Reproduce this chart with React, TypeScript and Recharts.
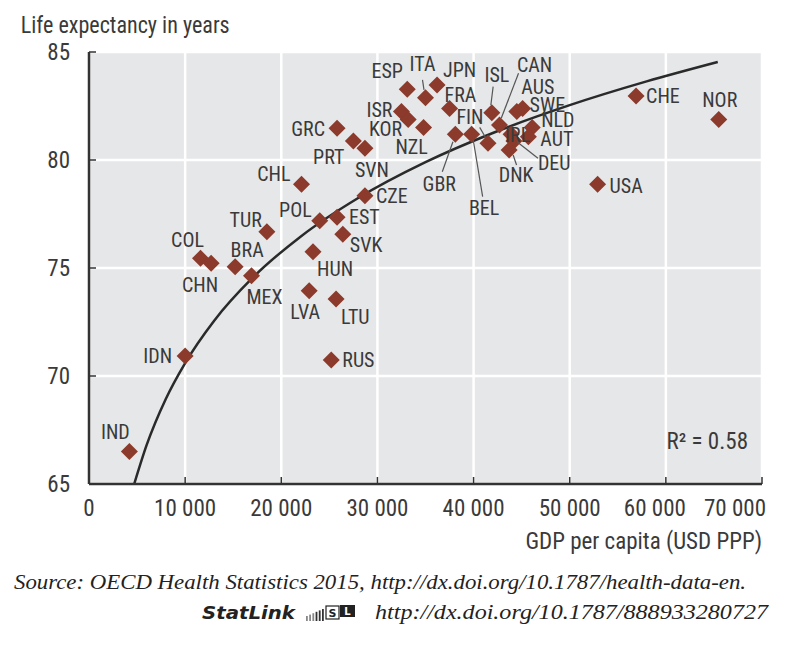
import React from 'react';
import { ComposedChart, Scatter, Line, XAxis, YAxis, CartesianGrid } from 'recharts';

// ---------- data ----------
const COUNTRIES = [
  'IND', 'IDN', 'COL', 'CHN', 'BRA', 'MEX', 'TUR', 'CHL', 'POL', 'EST', 'SVK', 'HUN', 'LVA', 'LTU',
  'RUS', 'CZE', 'SVN', 'PRT', 'GRC', 'ISR', 'KOR', 'NZL', 'ESP', 'ITA', 'JPN', 'FRA', 'GBR', 'BEL',
  'FIN', 'ISL', 'CAN', 'IRL', 'DEU', 'DNK', 'AUS', 'SWE', 'NLD', 'AUT', 'USA', 'CHE', 'NOR',
];
const GDP_PER_CAPITA = [
  4200, 10000, 11600, 12700, 15200, 16900, 18500, 22100, 24000, 25800, 26400, 23300, 22900, 25700,
  25200, 28700, 28700, 27500, 25800, 32500, 33200, 34800, 33100, 35000, 36200, 37500, 38100, 39800,
  41500, 41900, 42700, 43900, 44200, 43700, 44500, 45100, 46100, 45700, 52900, 56900, 65500,
];
const LIFE_EXPECTANCY = [
  66.5, 70.93, 75.45, 75.22, 75.06, 74.64, 76.68, 78.88, 77.19, 77.35, 76.56, 75.75, 73.95, 73.56,
  70.74, 78.35, 80.54, 80.88, 81.47, 82.24, 81.88, 81.5, 83.27, 82.88, 83.47, 82.39, 81.19, 81.19,
  80.77, 82.19, 81.62, 81.19, 80.88, 80.46, 82.24, 82.39, 81.51, 81.08, 78.88, 82.96, 81.88,
];
// fitted (logarithmic) trend curve
const TREND_GDP = [4700, 6000, 8000, 10000, 13000, 17000, 22000, 28000, 35000, 42000, 50000, 58000, 65400];
const TREND_LIFE = [65.0, 66.81, 68.95, 70.6, 72.55, 74.54, 76.45, 78.24, 79.9, 81.25, 82.54, 83.64, 84.54];
const R_SQUARED = 0.58;

const X_TICKS = [0, 10000, 20000, 30000, 40000, 50000, 60000, 70000];
const Y_TICKS = [65, 70, 75, 80, 85];

const TITLE = 'Life expectancy in years';
const X_LABEL = 'GDP per capita (USD PPP)';
const SOURCE = 'Source:  OECD Health Statistics 2015, http://dx.doi.org/10.1787/health-data-en.';
const STATLINK = 'StatLink';
const STATLINK_URL = 'http://dx.doi.org/10.1787/888933280727';

const points = COUNTRIES.map((code, i) => ({ code, gdp: GDP_PER_CAPITA[i], le: LIFE_EXPECTANCY[i] }));
const trend = TREND_GDP.map((g, i) => ({ gdp: g, le: TREND_LIFE[i] }));

// ---------- styles / layout ----------
const FONT = "'Liberation Sans Narrow', 'Arial Narrow', 'Roboto Condensed', 'DejaVu Sans Condensed', sans-serif";
const SERIF = "'Liberation Serif', 'DejaVu Serif', serif";
const TEXT = '#3a3a3a';
const MARK = '#8c3a2b';
const AXIS = '#333333';

type LabelPos = { dx: number; dy: number; a: 'start' | 'middle' | 'end'; leader?: [number, number, number, number] };
const LABEL_POS: Record<string, LabelPos> = {
  IND: { dx: -14, dy: -20, a: 'middle' },
  IDN: { dx: -13, dy: 0, a: 'end' },
  COL: { dx: -13, dy: -18, a: 'middle' },
  CHN: { dx: -11, dy: 22, a: 'middle' },
  BRA: { dx: 12, dy: -17, a: 'middle' },
  MEX: { dx: 13, dy: 21, a: 'middle' },
  TUR: { dx: -5, dy: -12, a: 'end' },
  CHL: { dx: -11, dy: -10, a: 'end' },
  POL: { dx: -8, dy: -11, a: 'end' },
  EST: { dx: 12, dy: 0, a: 'start' },
  SVK: { dx: 7, dy: 11, a: 'start' },
  HUN: { dx: 4, dy: 17, a: 'start' },
  LVA: { dx: -4, dy: 21, a: 'middle' },
  LTU: { dx: 5, dy: 18, a: 'start' },
  RUS: { dx: 11, dy: 0, a: 'start' },
  CZE: { dx: 11, dy: 0, a: 'start' },
  SVN: { dx: 7, dy: 22, a: 'middle' },
  PRT: { dx: -9, dy: 16, a: 'end' },
  GRC: { dx: -12, dy: 1, a: 'end' },
  ISR: { dx: -9, dy: -2, a: 'end' },
  KOR: { dx: -6, dy: 10, a: 'end' },
  NZL: { dx: -12, dy: 19, a: 'middle' },
  ESP: { dx: -20, dy: -18, a: 'middle' },
  ITA: { dx: -3, dy: -34, a: 'middle', leader: [-3, -18, -1.5, -8] },
  JPN: { dx: 6, dy: -15, a: 'start' },
  FRA: { dx: -5, dy: -13, a: 'start' },
  GBR: { dx: -16, dy: 50, a: 'middle', leader: [-2.4, 7.4, -13, 37.4] },
  BEL: { dx: 12.5, dy: 74, a: 'middle', leader: [1.6, 5.7, 11, 62.4] },
  FIN: { dx: -18, dy: -26, a: 'middle', leader: [-8.3, -16, -2.3, -5.6] },
  ISL: { dx: 5, dy: -38, a: 'middle', leader: [1.3, -26, -1, -7.7] },
  CAN: { dx: 35, dy: -60, a: 'middle', leader: [19, -51.7, 1.7, -6.7] },
  AUS: { dx: 21, dy: -25, a: 'middle' },
  SWE: { dx: 7, dy: -3, a: 'start' },
  NLD: { dx: 9, dy: -7, a: 'start' },
  AUT: { dx: 12, dy: 2, a: 'start' },
  IRL: { dx: -6, dy: 1, a: 'start' },
  DEU: { dx: 24, dy: 22, a: 'start', leader: [3, 0.7, 24, 17.3] },
  DNK: { dx: 7, dy: 25, a: 'middle', leader: [4, 5, 7.4, 15] },
  USA: { dx: 12, dy: 2, a: 'start' },
  CHE: { dx: 10, dy: 0, a: 'start' },
  NOR: { dx: 1, dy: -19, a: 'middle' },
};
const X_TICK_SHIFT: Record<number, number> = { 60000: -11, 70000: -27 };

const fmtThousands = (v: number) => String(v).replace(/\B(?=(\d{3})+(?!\d))/g, ' ');

const Diamond = (props: any) => {
  const { cx, cy } = props;
  if (cx == null || cy == null) return null;
  const r = 8.5;
  return <polygon points={`${cx},${cy - r} ${cx + r},${cy} ${cx},${cy + r} ${cx - r},${cy}`} fill={MARK} />;
};

const CountryLabel = (props: any) => {
  const { cx, cy, payload } = props;
  if (cx == null || cy == null || !payload) return null;
  const p = LABEL_POS[payload.code] || { dx: 10, dy: 0, a: 'start' };
  return (
    <g>
      {p.leader && (
        <line x1={cx + p.leader[0]} y1={cy + p.leader[1]} x2={cx + p.leader[2]} y2={cy + p.leader[3]} stroke="#555" strokeWidth={1.2} />
      )}
      <text x={cx + p.dx} y={cy + p.dy + 7} textAnchor={p.a} fontSize={20} fill={TEXT} fontFamily={FONT}>
        {payload.code}
      </text>
    </g>
  );
};

const XTick = (props: any) => {
  const { x, y, payload } = props;
  const shift = X_TICK_SHIFT[payload.value] ?? 0;
  return (
    <text x={x + shift} y={y + 32} textAnchor="middle" fontSize={23} fill={TEXT} fontFamily={FONT}>
      {fmtThousands(payload.value)}
    </text>
  );
};

const YTick = (props: any) => {
  const { x, y, payload } = props;
  return (
    <text x={x} y={y + 8} textAnchor="end" fontSize={23} fill={TEXT} fontFamily={FONT}>
      {payload.value}
    </text>
  );
};

export default function App() {
  return (
    <div style={{ position: 'relative', width: 780, height: 638 }}>
      <ComposedChart width={780} height={560} margin={{ top: 44, right: 26, bottom: 44, left: 0 }}>
        <CartesianGrid fill="#e6e7e8" stroke="#ffffff" strokeWidth={2.5} />
        <XAxis
          dataKey="gdp"
          type="number"
          domain={[0, 70000]}
          ticks={X_TICKS}
          interval={0}
          allowDataOverflow
          height={40}
          tickSize={-7}
          tickMargin={7}
          axisLine={{ stroke: AXIS, strokeWidth: 2.5 }}
          tickLine={{ stroke: AXIS, strokeWidth: 1.5 }}
          tick={<XTick />}
        />
        <YAxis
          dataKey="le"
          type="number"
          domain={[65, 85]}
          ticks={Y_TICKS}
          interval={0}
          allowDataOverflow
          width={81}
          tickSize={-7}
          tickMargin={26}
          axisLine={{ stroke: AXIS, strokeWidth: 2.5 }}
          tickLine={{ stroke: AXIS, strokeWidth: 1.5 }}
          tick={<YTick />}
        />
        <Scatter data={points} shape={<Diamond />} isAnimationActive={false} />
        <Line data={trend} dataKey="le" type="monotone" stroke="#2a2a2a" strokeWidth={2.5} dot={false} activeDot={false} isAnimationActive={false} />
        <Scatter data={points} shape={<CountryLabel />} isAnimationActive={false} />
      </ComposedChart>
      <svg width={780} height={638} style={{ position: 'absolute', left: 0, top: 0, pointerEvents: 'none' }}>
        <text x={12.7} y={25} fontSize={23} fill={TEXT} fontFamily={FONT} textLength={209} lengthAdjust="spacingAndGlyphs">{TITLE}</text>
        <text x={754} y={541} textAnchor="end" fontSize={23} fill={TEXT} fontFamily={FONT}>{X_LABEL}</text>
        <text x={740} y={441} textAnchor="end" fontSize={23} fill={TEXT} fontFamily={FONT}>{`R\u00B2 = ${R_SQUARED.toFixed(2)}`}</text>
        <text x={6} y={581} fontSize={22} fill="#222" fontFamily={SERIF} fontStyle="italic" textLength={732} lengthAdjust="spacingAndGlyphs">{SOURCE}</text>
        <text x={194} y={611} fontSize={17} fill="#222" fontFamily="'DejaVu Sans', sans-serif" fontWeight="bold" fontStyle="italic" textLength={93} lengthAdjust="spacingAndGlyphs">{STATLINK}</text>
        <g>
          {[0, 1, 2, 3, 4, 5].map((i) => (
            <rect key={i} x={298 + i * 3.2} y={608 - i * 1.4} width={1.8} height={5 + i * 1.4} fill={i < 3 ? '#888' : '#333'} />
          ))}
          <rect x={318} y={598} width={13} height={13} fill="#fff" stroke="#222" strokeWidth={1.2} />
          <text x={324.5} y={609} textAnchor="middle" fontSize={11} fontWeight="bold" fill="#222" fontFamily="'DejaVu Sans', sans-serif">S</text>
          <rect x={332} y={597} width={15} height={12} fill="#222" />
          <text x={339.5} y={607} textAnchor="middle" fontSize={10} fontWeight="bold" fill="#fff" fontFamily="'DejaVu Sans', sans-serif">L</text>
        </g>
        <text x={367} y={611} fontSize={22} fill="#222" fontFamily={SERIF} fontStyle="italic" textLength={393} lengthAdjust="spacingAndGlyphs">{STATLINK_URL}</text>
      </svg>
    </div>
  );
}
